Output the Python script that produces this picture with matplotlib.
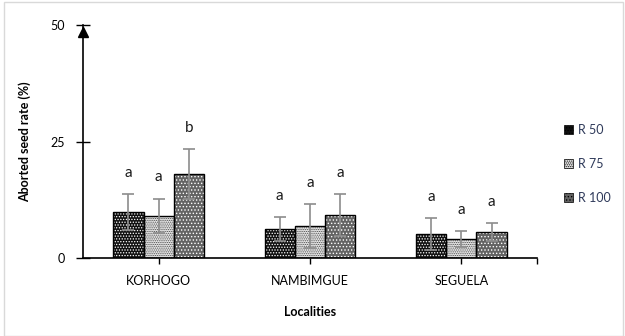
import numpy as np
import matplotlib
matplotlib.use("Agg")
import matplotlib.pyplot as plt
from matplotlib.patches import Rectangle, Patch

plt.rcParams['font.family'] = ['Lato', 'DejaVu Sans']
plt.rcParams['hatch.linewidth'] = 0.6

# data
localities = ['KORHOGO', 'NAMBIMGUE', 'SEGUELA']
series = ['R 50', 'R 75', 'R 100']
r50 = [9.9, 6.2, 5.2]
r75 = [9.0, 6.9, 4.1]
r100 = [18.0, 9.2, 5.6]
r50_err = [3.8, 2.6, 3.4]
r75_err = [3.7, 4.7, 1.7]
r100_err = [5.4, 4.5, 1.9]
letters = [['a', 'a', 'a'], ['a', 'a', 'a'], ['b', 'a', 'a']]  # per series, per locality

values = [r50, r75, r100]
errors = [r50_err, r75_err, r100_err]
faces = ['#111111', '#ececec', '#636363']
hatch_cols = ['#ffffff', '#444444', '#ffffff']
hatches = ['......', '.........', '.....']

fig = plt.figure(figsize=(6.25, 3.36), dpi=100)
ax = fig.add_axes([0.1328, 0.232, 0.7264, 0.6935])

x = np.arange(len(localities))
w = 0.2
for i in range(3):
    pos = x + (i - 1) * w
    # fill + hatch layer, then black outline on top
    ax.bar(pos, values[i], w, color=faces[i], hatch=hatches[i],
           edgecolor=hatch_cols[i], linewidth=0, zorder=2)
    ax.bar(pos, values[i], w, fill=False, edgecolor='black', linewidth=1.0,
           zorder=3, label=series[i])
    ax.errorbar(pos, values[i], yerr=errors[i], fmt='none', ecolor='#8c8c8c',
                elinewidth=1.2, capsize=4, capthick=1.2, zorder=4)
    for j in range(3):
        ax.text(pos[j], values[i][j] + errors[i][j] + 4.6, letters[i][j],
                ha='center', va='center', fontsize=11, color='#1a1a1a')

ax.set_xlim(-0.5, 2.5)
ax.set_ylim(0, 50)
ax.set_yticks([0, 25, 50])
ax.set_xticks(x)
ax.set_xticklabels(localities, fontsize=9)
ax.set_xticks([2.5], minor=True)
ax.tick_params(axis='x', which='both', direction='out', length=4, width=1, pad=8)
ax.tick_params(axis='y', direction='inout', length=10, width=1, labelsize=9, pad=8)
for s in ['top', 'right']:
    ax.spines[s].set_visible(False)
ax.spines['left'].set_linewidth(1.2)
ax.spines['bottom'].set_linewidth(1.2)

# arrow head on the y axis
ax.plot([-0.5], [48.6], marker='^', color='black', markersize=7, clip_on=False, zorder=5)

ax.set_ylabel('Aborted seed rate (%)', fontsize=9, fontweight='bold', labelpad=14)
ax.set_xlabel('Localities', fontsize=9, fontweight='bold', labelpad=14)

handles = [Patch(facecolor=faces[i], hatch=hatches[i], edgecolor='black', linewidth=0.5)
           for i in range(3)]
ax.legend(handles, series, loc='center left', bbox_to_anchor=(1.035, 0.405), frameon=False,
          fontsize=9, handlelength=0.7, handleheight=0.7, labelspacing=1.75,
          handletextpad=0.4, labelcolor='#2f3a5a')

fig.patches.append(Rectangle((0.006, 0.0), 0.99, 0.994, transform=fig.transFigure,
                             fill=False, edgecolor='#d9d9d9', linewidth=1))

fig.savefig('out.png', dpi=100)
